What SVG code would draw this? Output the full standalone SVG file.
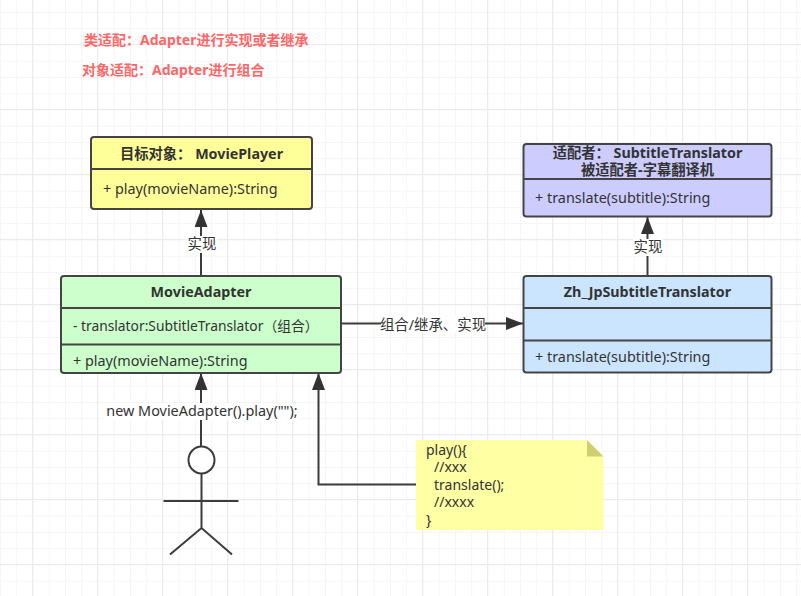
<svg xmlns="http://www.w3.org/2000/svg" width="801" height="596" viewBox="0 0 801 596">
<style>
text{font-family:"Noto Sans","Noto Sans CJK SC",sans-serif;font-size:14.4px;fill:#333}
.t{font-weight:700;text-anchor:middle;font-size:14.3px}
.c{text-anchor:middle}
.n{font-size:14px}
.s{font-size:13.8px}
.red{fill:#ff6666;font-weight:700;font-size:14px}
.box{stroke:#444;stroke-width:2}
.div{stroke:#444;stroke-width:2}
.con{fill:none;stroke:#3c3c3c;stroke-width:2}
.lbg{fill:#fff}
.fig{fill:none;stroke:#3c3c3c;stroke-width:2}
</style>
<defs>
<pattern id="minor" patternUnits="userSpaceOnUse" x="0" y="-4.25" width="16.25" height="16.25"><path d="M.5 0V16.25M0 .5H16.25" fill="none" stroke="#f5f5f5" stroke-width="1"/></pattern>
<pattern id="major" patternUnits="userSpaceOnUse" x="32" y="44" width="65" height="65"><path d="M.5 0V65M0 .5H65" fill="none" stroke="#ebebeb" stroke-width="1"/></pattern>
<marker id="arr" markerUnits="userSpaceOnUse" markerWidth="18" markerHeight="18" refX="17" refY="6.5" orient="auto"><path d="M0 0L17 6.5L0 13Z" fill="#333"/></marker>
</defs>
<rect width="801" height="596" fill="#fff"/>
<rect width="801" height="596" fill="url(#minor)"/>
<rect width="801" height="596" fill="url(#major)"/>
<g id="connectors">
<path class="con" d="M201 275V210" marker-end="url(#arr)"/>
<path class="con" d="M647.500 275V217" marker-end="url(#arr)"/>
<path class="con" d="M342 323.500H523" marker-end="url(#arr)"/>
<path class="con" d="M201 447V373" marker-end="url(#arr)"/>
<path class="con" d="M416 484.500H318.500V373" marker-end="url(#arr)"/>
<rect class="lbg" x="187" y="236" width="30" height="17"/>
<text class="c" x="202" y="249">实现</text>
<rect class="lbg" x="633" y="239" width="30" height="17"/>
<text class="c" x="648" y="252">实现</text>
<rect class="lbg" x="381" y="315" width="104" height="17"/>
<text class="c" x="433" y="330">组合/继承、实现</text>
<rect class="lbg" x="105" y="403" width="194" height="17"/>
<text class="c" x="202" y="416">new MovieAdapter().play("");</text>
</g>
<text class="red" x="84" y="45">类适配：Adapter进行实现或者继承</text>
<text class="red" x="82" y="75">对象适配：Adapter进行组合</text>
<g id="movieplayer">
<rect class="box" x="91" y="137" width="221" height="72" rx="3" fill="#ffff99"/>
<path class="div" d="M91 169H312"/>
<text class="t" x="201.500" y="159">目标对象： MoviePlayer</text>
<text x="103" y="194">+ play(movieName):String</text>
</g>
<g id="subtitletranslator">
<rect class="box" x="523.500" y="144" width="248" height="72.500" rx="3" fill="#ccccff"/>
<path class="div" d="M523.500 179H771.500"/>
<text class="t" x="647.500" y="158">适配者： SubtitleTranslator</text>
<text class="t" x="647.500" y="175">被适配者-字幕翻译机</text>
<text x="535" y="203">+ translate(subtitle):String</text>
</g>
<g id="movieadapter">
<rect class="box" x="61" y="276" width="280" height="97" rx="3" fill="#ccffcc"/>
<path class="div" d="M61 308H341M61 344.500H341"/>
<text class="t" x="201" y="297">MovieAdapter</text>
<text class="s" x="73" y="331">- translator:SubtitleTranslator（组合）</text>
<text x="73" y="366">+ play(movieName):String</text>
</g>
<g id="zhjp">
<rect class="box" x="523.500" y="276" width="248" height="96.500" rx="3" fill="#cce5ff"/>
<path class="div" d="M523.500 308H771.500M523.500 340.500H771.500"/>
<text class="t" x="647.500" y="297">Zh_JpSubtitleTranslator</text>
<text x="535" y="362">+ translate(subtitle):String</text>
</g>
<g id="actor">
<ellipse class="fig" cx="201.500" cy="460" rx="13" ry="13.500" style="fill:#fff"/>
<path class="fig" d="M201.500 473.500V528M163.500 501H238.500M170 554.500L201.500 528L232 554.500"/>
</g>
<g id="note">
<path d="M416 440H587L603.500 456.500V530H416Z" fill="#ffffa3"/>
<path d="M587 440L603.500 456.500H587Z" fill="#cfcf70"/>
<text class="n" x="426" y="455">play(){</text>
<text class="n" x="434" y="472">//xxx</text>
<text class="n" x="434" y="490">translate();</text>
<text class="n" x="434" y="507">//xxxx</text>
<text class="n" x="426" y="525">}</text>
</g>
</svg>
